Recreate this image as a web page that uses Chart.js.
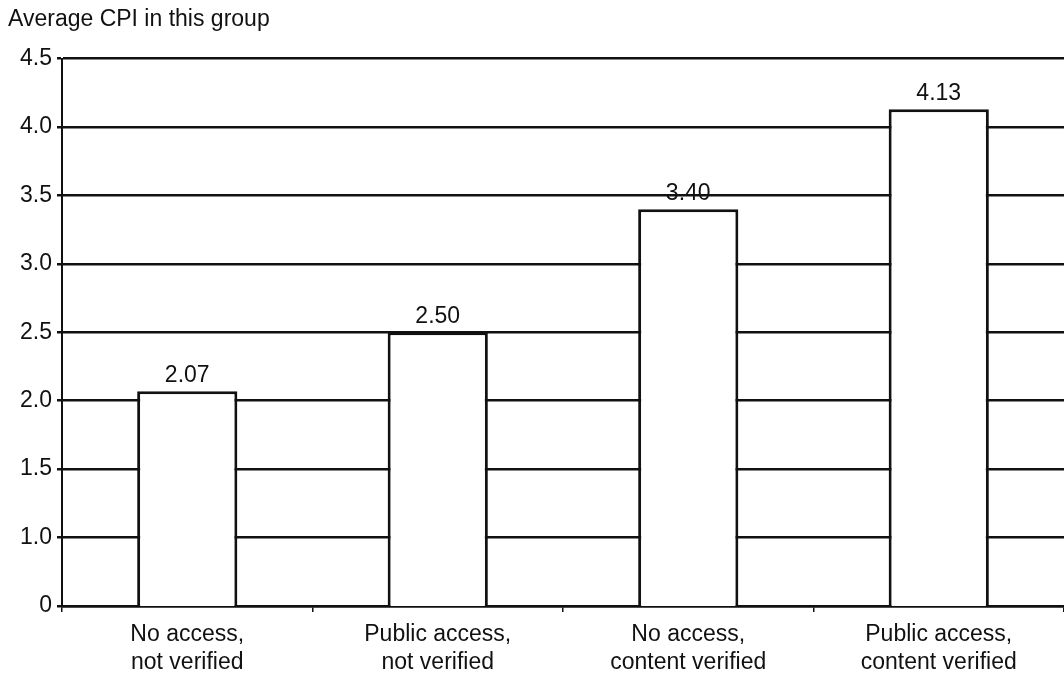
<!DOCTYPE html>
<html>
<head>
<meta charset="utf-8">
<script src="https://cdn.jsdelivr.net/npm/chart.js@4"></script>
<style>
  html, body { margin: 0; padding: 0; background: #fff; }
</style>
</head>
<body>
<canvas id="cpiChart" width="1064" height="685"></canvas>
<script>
// data
const categories = [
  ["No access,", "not verified"],
  ["Public access,", "not verified"],
  ["No access,", "content verified"],
  ["Public access,", "content verified"]
];
const avgCpi = [2.07, 2.50, 3.40, 4.13];
const yTicks = [0.5, 1.0, 1.5, 2.0, 2.5, 3.0, 3.5, 4.0, 4.5]; // bottom one is printed as "0"

const ink = "#111";
const family = "'Liberation Sans', Arial, sans-serif";
const font = { family: family, size: 23, weight: "normal" };

// value labels above the bars
const valueLabels = {
  id: "valueLabels",
  afterDatasetsDraw(chart) {
    const c = chart.ctx;
    const meta = chart.getDatasetMeta(0);
    c.save();
    c.fillStyle = ink;
    c.font = font.size + "px " + family;
    c.textAlign = "center";
    c.textBaseline = "alphabetic";
    meta.data.forEach((bar, i) => {
      c.fillText(avgCpi[i].toFixed(2), bar.x, bar.y - 9);
    });
    c.restore();
  }
};

new Chart(document.getElementById("cpiChart"), {
  type: "bar",
  data: {
    labels: categories,
    datasets: [{
      data: avgCpi,
      backgroundColor: "#fff",
      borderColor: ink,
      borderWidth: 3,
      borderSkipped: false,
      barPercentage: 0.8,
      categoryPercentage: 0.5
    }]
  },
  options: {
    responsive: false,
    animation: false,
    devicePixelRatio: 1,
    layout: { padding: { left: 8, right: 0, top: 0, bottom: 0 } },
    plugins: {
      legend: { display: false },
      tooltip: { enabled: false },
      title: {
        display: true,
        text: "Average CPI in this group",
        align: "start",
        color: ink,
        font: { family: family, size: 23, weight: "normal", lineHeight: 1.2 },
        padding: { top: 6, bottom: 25 }
      }
    },
    scales: {
      x: {
        grid: {
          drawOnChartArea: false,
          tickLength: 6,
          color: ink,
          lineWidth: 1.5,
          offset: true
        },
        border: { display: true, color: ink, width: 2.5 },
        ticks: {
          color: ink,
          font: { family: family, size: 23, lineHeight: 1.2 },
          padding: 9,
          maxRotation: 0,
          autoSkip: false
        },
        afterFit(s) { s.height = 79; }
      },
      y: {
        min: 0.5,
        max: 4.5,
        afterBuildTicks(s) { s.ticks = yTicks.map(v => ({ value: v })); },
        grid: { color: ink, lineWidth: 2.5, tickLength: 5 },
        border: { display: true, color: ink, width: 2 },
        ticks: {
          color: ink,
          font: font,
          padding: 5,
          callback: v => (v === 0.5 ? "0" : v.toFixed(1))
        },
        afterFit(s) { s.width = 54; }
      }
    }
  },
  plugins: [valueLabels]
});
</script>
</body>
</html>
